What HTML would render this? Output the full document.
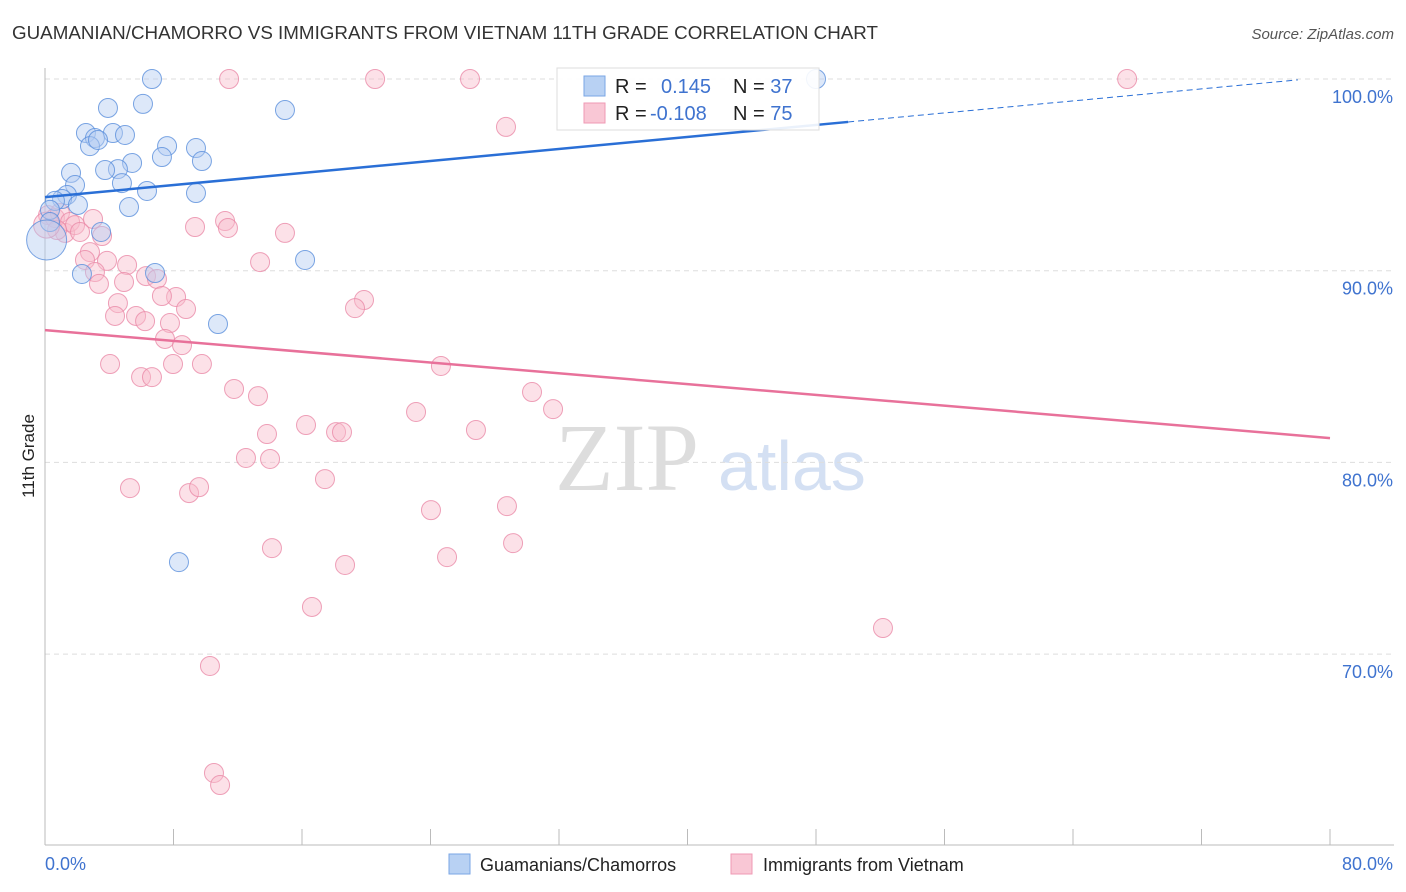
<!DOCTYPE html>
<html><head><meta charset="utf-8"><style>
body{margin:0;background:#fff;font-family:"Liberation Sans",sans-serif}
svg{display:block}
</style></head><body>
<svg id="c" width="1406" height="892" xmlns="http://www.w3.org/2000/svg">
<text x="12" y="39" font-size="18" fill="#333" textLength="866" lengthAdjust="spacingAndGlyphs">GUAMANIAN/CHAMORRO VS IMMIGRANTS FROM VIETNAM 11TH GRADE CORRELATION CHART</text>
<text x="1394" y="39" font-size="15" fill="#555" font-style="italic" text-anchor="end">Source: ZipAtlas.com</text>
<text x="34" y="456" font-size="17" fill="#222" text-anchor="middle" transform="rotate(-90 34 456)">11th Grade</text>
<text x="555" y="490" font-size="96" fill="#ddd" font-family="Liberation Serif,serif">ZIP</text>
<text x="718" y="490" font-size="70" fill="#d4e0f3">atlas</text>
<g id="grid"></g><g id="pts"></g><g id="trend"></g>
<g>
<rect x="557" y="68" width="262" height="62" fill="#fff" fill-opacity="0.9" stroke="#ddd"/>
<rect x="584" y="76" width="21" height="20" fill="#b8d1f3" stroke="#7aa6e4"/>
<rect x="584" y="103" width="21" height="20" fill="#f9c7d5" stroke="#ef9ab4"/>
<text x="615" y="93" font-size="20" fill="#222">R = <tspan fill="#3f73cf" x="661">0.145</tspan><tspan fill="#222" x="733">N = </tspan><tspan fill="#3f73cf">37</tspan></text>
<text x="615" y="120" font-size="20" fill="#222">R = <tspan fill="#3f73cf" x="650">-0.108</tspan><tspan fill="#222" x="733">N = </tspan><tspan fill="#3f73cf">75</tspan></text>
</g>
<g>
<rect x="449" y="854" width="21" height="20" fill="#b8d1f3" stroke="#7aa6e4"/>
<text x="480" y="871" font-size="18" fill="#222">Guamanians/Chamorros</text>
<rect x="731" y="854" width="21" height="20" fill="#f9c7d5" stroke="#ef9ab4"/>
<text x="763" y="871" font-size="18" fill="#222">Immigrants from Vietnam</text>
</g>
</svg>
<script>
const blueX=[6.66,3.92,6.10,14.94,2.55,4.23,4.98,3.11,2.80,3.30,7.60,9.40,7.28,9.77,5.42,4.54,3.74,1.62,1.87,4.79,6.35,9.40,1.37,1.06,0.62,2.05,5.23,0.31,0.31,3.49,16.19,6.85,2.30,10.77,8.34,48.0,0.1];
const blueY=[100,98.49,98.70,98.38,97.18,97.18,97.08,96.92,96.50,96.82,96.50,96.40,95.93,95.72,95.62,95.30,95.25,95.10,94.47,94.57,94.16,94.05,93.95,93.74,93.64,93.43,93.32,93.17,92.54,92.02,90.56,89.88,89.83,87.22,74.80,100,91.6];
const pinkX=[11.46,20.55,26.46,67.37,28.70,0.19,0.62,0.93,1.25,1.56,1.87,2.18,0.75,9.34,11.21,11.39,14.94,3.55,2.80,2.49,3.86,5.11,13.39,3.11,6.29,6.97,4.92,3.36,4.54,8.16,7.28,8.78,5.67,4.36,7.78,6.23,19.86,19.30,7.47,8.53,7.97,9.77,4.05,24.65,5.98,6.66,11.77,13.26,30.32,23.10,31.63,16.25,26.83,18.12,18.49,13.82,12.51,14.01,17.43,5.29,8.97,9.59,24.03,28.76,14.13,29.14,25.03,18.68,16.62,52.17,10.27,10.52,10.90,0.1,2.99];
const pinkY=[100,100,100,100,97.50,92.90,92.75,93.01,91.97,92.54,92.38,92.02,92.12,92.28,92.59,92.23,91.97,91.81,90.97,90.56,90.51,90.30,90.45,89.93,89.72,89.57,89.41,89.31,88.31,88.63,88.68,88.0,87.64,87.64,87.27,87.37,88.47,88.05,86.44,86.12,85.13,85.13,85.13,85.03,84.45,84.45,83.83,83.46,83.67,82.63,82.78,81.95,81.69,81.58,81.58,81.48,80.23,80.18,79.13,78.66,78.40,78.71,77.51,77.72,75.53,75.79,75.06,74.65,72.46,71.36,69.38,63.80,63.17,92.38,92.70];
const blueTrend=[93.84,0.0784];
const pinkTrend=[86.9,-0.0704];
const yTicks=[100,90,80,70];
const yTickLabels=["100.0%","90.0%","80.0%","70.0%"];
const xTickVals=[0,8,16,24,32,40,48,56,64,72,80];
const NS="http://www.w3.org/2000/svg";
const X=v=>45+v*1285/80, Y=v=>79+(100-v)*19.17;
function mk(t,a,p){const e=document.createElementNS(NS,t);for(const k in a)e.setAttribute(k,a[k]);p.appendChild(e);return e;}
const g=document.getElementById('grid');
yTicks.forEach((t,i)=>{
 const l=mk('line',{x1:45,x2:1394,y1:Y(t),y2:Y(t),stroke:'#ddd','stroke-dasharray':'5,4'},g);
 
 
 const tx=mk('text',{x:1393,y:Y(t)+24,'font-size':18,fill:'#3f73cf','text-anchor':'end'},g);
 tx.textContent=yTickLabels[i];
 
 
});
const ax=mk('line',{x1:45,x2:45,y1:68,y2:845,stroke:'#bbb'},g);


const bx=mk('line',{x1:45,x2:1394,y1:845,y2:845,stroke:'#bbb'},g);


xTickVals.forEach(v=>{const t=mk('line',{x1:X(v),x2:X(v),y1:829,y2:845,stroke:'#bbb'},g);
 
 });
[[0,"0.0%","start",45],[80,"80.0%","end",1393]].forEach(a=>{const t=mk('text',{x:a[3],y:870,'font-size':18,fill:'#3f73cf','text-anchor':a[2]},g);t.textContent=a[1];
 
 });
const p=document.getElementById('pts');
function dots(xs,ys,fill,stroke,name,bigR){xs.forEach((x,i)=>{const big=(x<=0.1);
 const c=mk('circle',{cx:X(x),cy:Y(ys[i]),r:big?bigR:9.5,fill:fill,'fill-opacity':0.45,stroke:stroke,'stroke-opacity':0.8,'stroke-width':1},p);
 
 });}
dots(pinkX,pinkY,'#f8bccd','#ea8aa8','vietnam-point',13);
dots(blueX,blueY,'#b3cdf2','#5a8fdc','guamanian-point',20);
const tr=document.getElementById('trend');
const b1=mk('line',{x1:X(0),y1:Y(blueTrend[0]),x2:X(50),y2:Y(blueTrend[0]+50*blueTrend[1]),stroke:'#2a6fd6','stroke-width':2.5},tr);


const b2=mk('line',{x1:X(50),y1:Y(blueTrend[0]+50*blueTrend[1]),x2:X(78),y2:Y(blueTrend[0]+78*blueTrend[1]),stroke:'#2a6fd6','stroke-width':1,'stroke-dasharray':'6,4'},tr);


const p1=mk('line',{x1:X(0),y1:Y(pinkTrend[0]),x2:X(80),y2:Y(pinkTrend[0]+80*pinkTrend[1]),stroke:'#e8719a','stroke-width':2.5},tr);


</script>
</body></html>
